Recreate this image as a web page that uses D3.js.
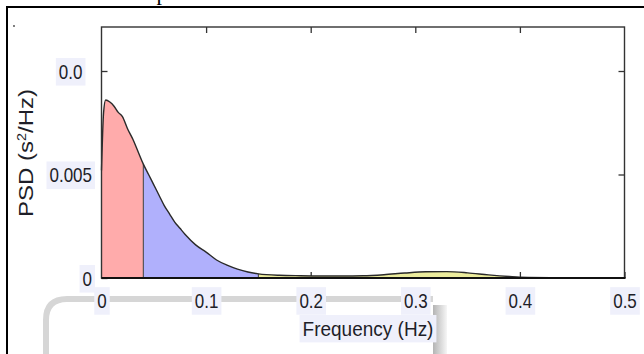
<!DOCTYPE html>
<html>
<head>
<meta charset="utf-8">
<script src="https://cdn.jsdelivr.net/npm/d3@7"></script>
<style>
	html, body { margin: 0; padding: 0; background: #fff; }
	svg { display: block; }
</style>
</head>
<body>
<svg id="chart" width="644" height="354"></svg>
<script>
// PSD estimate (Hz, s^2/Hz)
const freq = [0, 0.002, 0.004, 0.008, 0.012, 0.016, 0.02, 0.025, 0.03, 0.035, 0.04, 0.045, 0.05, 0.055, 0.06,
	0.065, 0.07, 0.075, 0.08, 0.09, 0.1, 0.11, 0.12, 0.13, 0.14, 0.15, 0.17, 0.19, 0.21, 0.23, 0.25, 0.27,
	0.29, 0.31, 0.33, 0.35, 0.37, 0.39, 0.4, 0.45, 0.5]
const psd = [0.0052, 0.0080, 0.0086, 0.0085, 0.0083, 0.0080, 0.0078, 0.0072, 0.0067, 0.0061, 0.0055, 0.0050,
	0.0045, 0.0040, 0.0035, 0.0031, 0.0027, 0.0024, 0.0021, 0.0016, 0.00125, 0.00087, 0.00062, 0.00043,
	0.00029, 0.0002, 0.00013, 0.00011, 0.0001, 0.0001, 0.00011, 0.00016, 0.00024, 0.0003, 0.00031, 0.00025,
	0.00015, 0.00007, 0.00004, 0.00001, 0]

// VLF / LF / HF bands
const bandEdges = [0, 0.04, 0.15, 0.4]
const bandColors = ['#ffabab', '#b0b0fc', '#ecec9c']

const xTicks = [0, 0.1, 0.2, 0.3, 0.4, 0.5]
const xTickLabels = ['0', '0.1', '0.2', '0.3', '0.4', '0.5']
const yTicks = [0, 0.005, 0.01]
const yTickLabels = ['0', '0.005', '0.0']

const FONT = 'Liberation Sans, Arial, sans-serif'
const TEXT = '#1e1e28'
const LABEL_BG = '#eff0fb'

const svg = d3.select('#chart')
const plot = { left: 101.5, right: 624.5, top: 27, bottom: 278 }

const x = d3.scaleLinear().domain([0, 0.5]).range([plot.left, plot.right])
const y = d3.scaleLinear().domain([0, 0.012126]).range([plot.bottom, plot.top])

// scanned page bits around the figure
svg.append('line').attr('x1', 7).attr('y1', 7).attr('x2', 644).attr('y2', 7)
	.attr('stroke', '#000').attr('stroke-width', 2)
svg.append('line').attr('x1', 7).attr('y1', 6).attr('x2', 7).attr('y2', 354)
	.attr('stroke', '#000').attr('stroke-width', 2)
svg.append('text').attr('x', 162).attr('y', -0.5).attr('text-anchor', 'middle')
	.style('font-family', 'Liberation Serif, serif').style('font-size', '22px').text('p')
svg.append('circle').attr('cx', 14).attr('cy', 26).attr('r', 0.9).attr('fill', '#444')

const grad = svg.append('defs').append('linearGradient').attr('id', 'shadow')
grad.append('stop').attr('offset', '0%').attr('stop-color', '#b4b4b4')
grad.append('stop').attr('offset', '100%').attr('stop-color', '#f6f6f6')

svg.append('path').attr('d', 'M46,354V320Q46,299 67,299H433')
	.attr('fill', 'none').attr('stroke', '#d6d6d6').attr('stroke-width', 6)
svg.append('rect').attr('x', 433).attr('y', 305).attr('width', 14).attr('height', 49).attr('fill', 'url(#shadow)')

function addBg(texts) {
	texts.each(function () {
		const b = this.getBBox()
		d3.select(this.parentNode)
			.insert('rect', () => this)
			.attr('x', b.x - 3)
			.attr('y', b.y - 2)
			.attr('width', b.width + 6)
			.attr('height', b.height + 4)
			.attr('transform', d3.select(this).attr('transform'))
			.attr('fill', LABEL_BG)
	})
}

// axes (ticks point inward, gnuplot style)
const gx = svg.append('g')
	.attr('transform', `translate(0,${plot.bottom})`)
	.call(d3.axisBottom(x).tickValues(xTicks).tickSizeInner(-6).tickSizeOuter(0)
		.tickFormat((d, i) => xTickLabels[i]))
	.attr('font-family', FONT).attr('font-size', 17)

gx.select('.domain').remove()
gx.selectAll('.tick line').attr('stroke', '#333').attr('stroke-width', 1.3)
gx.selectAll('.tick text')
	.attr('y', 25).attr('dy', null).attr('fill', TEXT)
	.attr('transform', 'scale(1,1.2)')

const gy = svg.append('g')
	.attr('transform', `translate(${plot.left},0)`)
	.call(d3.axisLeft(y).tickValues(yTicks).tickSizeInner(-6).tickSizeOuter(0)
		.tickFormat((d, i) => yTickLabels[i]))
	.attr('font-family', FONT).attr('font-size', 17)

gy.select('.domain').remove()
gy.selectAll('.tick line').attr('stroke', '#333').attr('stroke-width', 1.3)
gy.selectAll('.tick text')
	.attr('x', -9.5).attr('y', 6.1).attr('dy', null).attr('fill', TEXT)
	// the clipped "0.0" keeps the alignment of the full label
	.attr('dx', (d, i) => (yTickLabels[i] === '0.0' ? '-0.56em' : null))
	.attr('transform', 'scale(1,1.2)')

const gt = svg.append('g')
	.attr('transform', `translate(0,${plot.top})`)
	.call(d3.axisTop(x).tickValues(xTicks.slice(1, 5)).tickSizeInner(-6).tickSizeOuter(0).tickFormat(''))
gt.select('.domain').remove()
gt.selectAll('.tick line').attr('stroke', '#333').attr('stroke-width', 1.3)

const gr = svg.append('g')
	.attr('transform', `translate(${plot.right},0)`)
	.call(d3.axisRight(y).tickValues(yTicks.slice(1)).tickSizeInner(-6).tickSizeOuter(0).tickFormat(''))
gr.select('.domain').remove()
gr.selectAll('.tick line').attr('stroke', '#333').attr('stroke-width', 1.3)

// axis titles
const xTitle = svg.append('text')
	.attr('transform', 'translate(368,336) scale(1,1.1)')
	.attr('text-anchor', 'middle')
	.attr('fill', TEXT)
	.style('font-family', FONT)
	.style('font-size', '19px')
	.text('Frequency (Hz)')

const yTitle = svg.append('text')
	.attr('transform', 'translate(33,153) rotate(-90) scale(1.2,1)')
	.attr('text-anchor', 'middle')
	.attr('fill', TEXT)
	.style('font-family', FONT)
	.style('font-size', '20px')
yTitle.append('tspan').text('PSD (s')
yTitle.append('tspan').attr('dy', -7).style('font-size', '12px').text('2')
yTitle.append('tspan').attr('dy', 7).text('/Hz)')

addBg(gx.selectAll('.tick text'))
addBg(gy.selectAll('.tick text'))
addBg(xTitle)

// filled bands under the spectrum
const pts = freq.map((f, i) => ({ f, v: psd[i] }))

const area = d3.area()
	.x((d) => x(d.f))
	.y0(y(0))
	.y1((d) => y(d.v))
	.curve(d3.curveMonotoneX)

bandEdges.slice(0, -1).forEach((lo, i) => {
	const hi = bandEdges[i + 1]
	const seg = pts.filter((p) => p.f >= lo - 1e-9 && p.f <= hi + 1e-9)
	svg.append('path').attr('d', area(seg)).attr('fill', bandColors[i])
})

svg.append('g')
	.selectAll('line')
	.data(pts.filter((p) => bandEdges.slice(1, 3).some((e) => Math.abs(e - p.f) < 1e-9)))
	.join('line')
	.attr('x1', (d) => x(d.f))
	.attr('x2', (d) => x(d.f))
	.attr('y1', y(0))
	.attr('y2', (d) => y(d.v))
	.attr('stroke', '#4a4a4a')
	.attr('stroke-width', 1.1)

const line = d3.line()
	.x((d) => x(d.f))
	.y((d) => y(d.v))
	.curve(d3.curveMonotoneX)

svg.append('path')
	.attr('d', line(pts))
	.attr('fill', 'none')
	.attr('stroke', '#2a2a2a')
	.attr('stroke-width', 1.4)

// plot frame
svg.append('rect')
	.attr('x', plot.left).attr('y', plot.top)
	.attr('width', plot.right - plot.left).attr('height', plot.bottom - plot.top)
	.attr('fill', 'none').attr('stroke', '#333').attr('stroke-width', 1.4)
svg.append('line')
	.attr('x1', plot.left).attr('x2', plot.right + 1)
	.attr('y1', plot.bottom).attr('y2', plot.bottom)
	.attr('stroke', '#111').attr('stroke-width', 2.2)
</script>
</body>
</html>
